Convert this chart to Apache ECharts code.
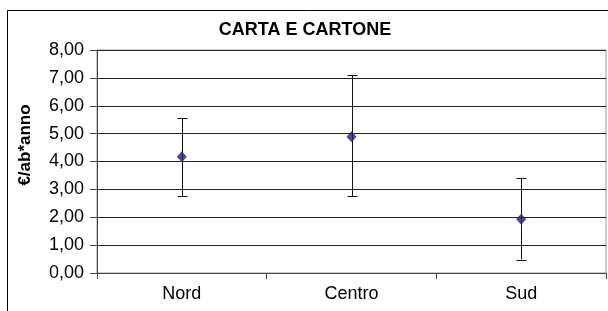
<!DOCTYPE html>
<html>
<head>
<meta charset="utf-8">
<script src="https://cdn.jsdelivr.net/npm/echarts@6/dist/echarts.min.js"></script>
<style>
  html, body { margin: 0; padding: 0; background: #fff; }
  #chart { width: 608px; height: 311px; }
</style>
</head>
<body>
<div id="chart"></div>
<script>
const categories = ["Nord", "Centro", "Sud"]
const means = [4.17, 4.89, 1.93]
const lows = [2.75, 2.75, 0.48]
const highs = [5.55, 7.11, 3.42]
const yMin = 0
const yMax = 8
const yStep = 1

const chart = echarts.init(document.getElementById("chart"))

const font = "Liberation Sans, Arial, sans-serif"
const fmt = v => v.toFixed(2).replace(".", ",")

const option = {
  animation: false,
  backgroundColor: "#fff",
  title: {
    text: "CARTA E CARTONE",
    left: 300,
    textAlign: "center",
    top: 16,
    textStyle: {
      fontFamily: font,
      fontSize: 18,
      fontWeight: "bold",
      color: "#000"
    }
  },
  graphic: [
    {
      type: "rect",
      shape: { x: 7.5, y: 10.5, width: 700, height: 400 },
      style: { fill: null, stroke: "#000", lineWidth: 1 },
      silent: true
    },
    {
      // y axis title
      type: "text",
      x: 25,
      y: 145,
      rotation: Math.PI / 2,
      style: {
        text: "€/ab*anno",
        fontFamily: font,
        fontSize: 17,
        fontWeight: "bold",
        fill: "#000",
        align: "center",
        verticalAlign: "middle"
      },
      silent: true
    }
  ],
  grid: {
    left: 97,
    right: 2,
    top: 50,
    bottom: 38,
    show: true,
    borderColor: "#999",
    borderWidth: 1
  },
  xAxis: {
    type: "category",
    data: categories,
    boundaryGap: true,
    axisLine: { lineStyle: { color: "#444", width: 1 } },
    axisTick: { show: true, length: 6, lineStyle: { color: "#444" } },
    axisLabel: {
      color: "#000",
      fontFamily: font,
      fontSize: 18,
      margin: 12
    }
  },
  yAxis: {
    type: "value",
    min: yMin,
    max: yMax,
    interval: yStep,
    axisLine: { show: true, lineStyle: { color: "#444", width: 1 } },
    axisTick: { show: true, length: 7, lineStyle: { color: "#444" } },
    axisLabel: {
      formatter: fmt,
      color: "#000",
      fontFamily: font,
      fontSize: 18,
      margin: 13
    },
    splitLine: { lineStyle: { color: "#222", width: 1 } }
  },
  series: [
    {
      type: "custom",
      data: categories.map((c, i) => [i, lows[i], highs[i]]),
      renderItem: (params, api) => {
        const lo = api.coord([api.value(0), api.value(1)])
        const hi = api.coord([api.value(0), api.value(2)])
        const x = Math.round(lo[0]) + 0.5
        const cap = 5
        const style = { stroke: "#111", lineWidth: 1 }
        return {
          type: "group",
          children: [
            { type: "line", shape: { x1: x, y1: lo[1], x2: x, y2: hi[1] }, style },
            { type: "line", shape: { x1: x - cap, y1: Math.round(lo[1]) + 0.5, x2: x + cap, y2: Math.round(lo[1]) + 0.5 }, style },
            { type: "line", shape: { x1: x - cap, y1: Math.round(hi[1]) + 0.5, x2: x + cap, y2: Math.round(hi[1]) + 0.5 }, style }
          ]
        }
      },
      z: 3
    },
    {
      type: "scatter",
      data: means,
      symbol: "diamond",
      symbolSize: [10, 11],
      itemStyle: { color: "#1f1f78" },
      z: 4
    }
  ]
}

chart.setOption(option)
</script>
</body>
</html>
